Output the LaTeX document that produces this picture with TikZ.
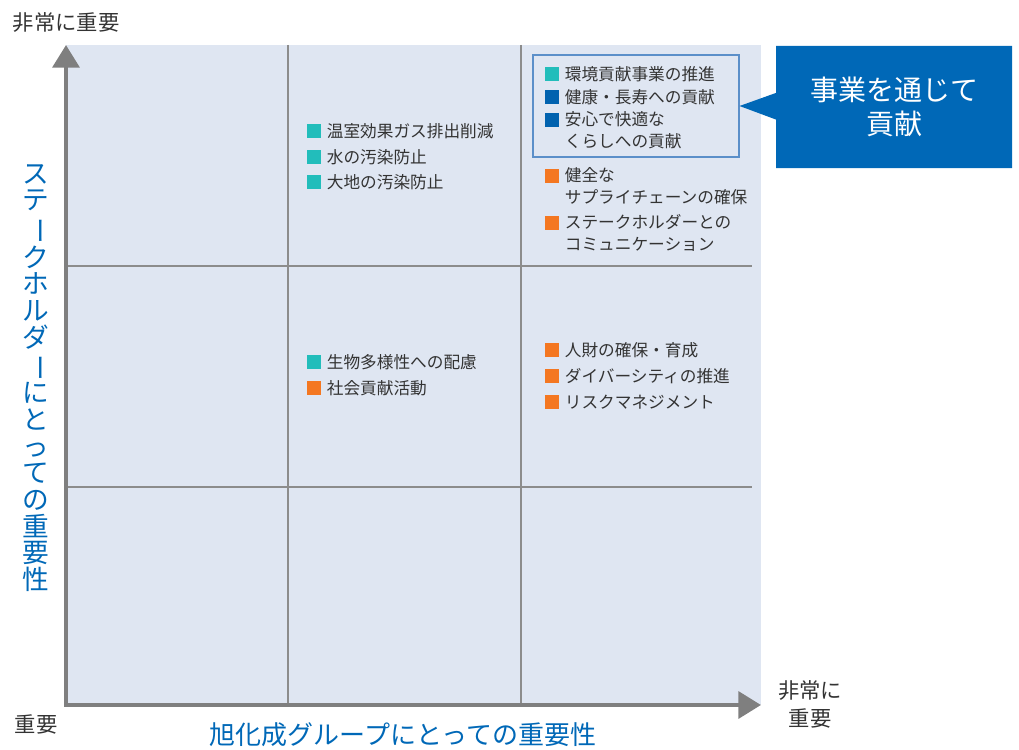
\documentclass[tikz,border=0pt]{standalone}
\usepackage{fontspec}
\setmainfont{Noto Sans CJK JP}
\usetikzlibrary{positioning,arrows.meta,shapes.callouts}

\definecolor{planebg}{HTML}{DFE6F2}
\definecolor{axisgray}{HTML}{7F7F7F}
\definecolor{gridgray}{HTML}{8C8C8C}
\definecolor{asablue}{HTML}{0068B7}
\definecolor{boxblue}{HTML}{5B8FC9}
\definecolor{envteal}{HTML}{22BDBB}
\definecolor{lifeblue}{HTML}{0062AF}
\definecolor{socorange}{HTML}{F47721}
\definecolor{txtgray}{HTML}{333333}

\tikzset{
  issue/.style={fill=#1, minimum size=10.5pt, inner sep=0pt},
  issuetxt/.style={text=txtgray, inner sep=0pt, align=left,
    font=\fontsize{12.5}{17}\selectfont},
  twolines/.style={issuetxt, anchor=north west, xshift=4pt, yshift=1.5pt},
  levellabel/.style={text=txtgray, align=center, font=\fontsize{16}{21}\selectfont},
  axistitle/.style={text=asablue, align=center, inner sep=0pt},
  axisline/.style={axisgray, line width=3.4pt,
    {Triangle[length=17pt,width=20pt]}-{Triangle[length=17pt,width=20pt]}},
  gridline/.style={gridgray, line width=1.8pt}
}

\begin{document}
\begin{tikzpicture}[x=0.75pt,y=-0.75pt]
	\useasboundingbox (0,0) rectangle (1019,749);

	% plane and grid
	\fill[planebg] (66,45) rectangle (761,705);
	\foreach \gx in {288,521}
		\draw[gridline] (\gx,45) -- (\gx,705);
	\foreach \gy in {266,487}
		\draw[gridline] (66,\gy) -- (752,\gy);

	% axes
	\coordinate (O) at (66,705);
	\coordinate (ytip) at (66,45);
	\coordinate (xtip) at (761,705);
	\draw[axisline] (ytip) -- (O) -- (xtip);

	\node[levellabel] (yhigh) at (66,23) {非常に重要};
	\node[levellabel] (low) at (36,724) {重要};
	\node[levellabel] (xhigh) at (810,704) {非常に\\重要};

	\node[axistitle, font=\fontsize{20}{20}\selectfont] (ylab) at (36,378)
		{ス\\テ\\\rotatebox[origin=c]{-90}{ー}\\ク\\ホ\\ル\\ダ\\\rotatebox[origin=c]{-90}{ー}\\に\\と\\っ\\て\\の\\重\\要\\性};
	\node[axistitle, font=\fontsize{19.5}{20}\selectfont] (xlab) at (403,735)
		{旭化成グループにとっての重要性};

	% top middle
	\node[issue=envteal] (s1) at (314,131) {};
	\node[issuetxt, right=4pt of s1] (t1) {温室効果ガス排出削減};
	\node[issue=envteal] (s2) at (314,157) {};
	\node[issuetxt, right=4pt of s2] (t2) {水の汚染防止};
	\node[issue=envteal] (s3) at (314,182) {};
	\node[issuetxt, right=4pt of s3] (t3) {大地の汚染防止};

	% business box
	\node[draw=boxblue, line width=0.8pt, minimum width=154.5pt, minimum height=76.5pt] (box) at (636,106) {};
	\node[issue=envteal] (s4) at (552,74) {};
	\node[issuetxt, right=4pt of s4] (t4) {環境貢献事業の推進};
	\node[issue=lifeblue] (s5) at (552,97) {};
	\node[issuetxt, right=4pt of s5] (t5) {健康・長寿への貢献};
	\node[issue=lifeblue] (s6) at (552,120) {};
	\node[twolines] (t6) at (s6.north east) {安心で快適な\\くらしへの貢献};

	\node[rectangle callout, fill=asablue, text=white, align=center,
		font=\fontsize{21}{26}\selectfont,
		minimum width=177pt, minimum height=91.5pt,
		callout absolute pointer={(box.east)}, callout pointer width=20pt] (msg) at (894,107)
		{事業を通じて\\貢献};

	% top right
	\node[issue=socorange] (s7) at (552,176) {};
	\node[twolines] (t7) at (s7.north east) {健全な\\サプライチェーンの確保};
	\node[issue=socorange] (s8) at (552,223) {};
	\node[twolines] (t8) at (s8.north east) {ステークホルダーとの\\コミュニケーション};

	% middle
	\node[issue=envteal] (s9) at (314,362) {};
	\node[issuetxt, right=4pt of s9] (t9) {生物多様性への配慮};
	\node[issue=socorange] (s10) at (314,388) {};
	\node[issuetxt, right=4pt of s10] (t10) {社会貢献活動};

	\node[issue=socorange] (s11) at (552,350) {};
	\node[issuetxt, right=4pt of s11] (t11) {人財の確保・育成};
	\node[issue=socorange] (s12) at (552,376) {};
	\node[issuetxt, right=4pt of s12] (t12) {ダイバーシティの推進};
	\node[issue=socorange] (s13) at (552,402) {};
	\node[issuetxt, right=4pt of s13] (t13) {リスクマネジメント};
\end{tikzpicture}
\end{document}
